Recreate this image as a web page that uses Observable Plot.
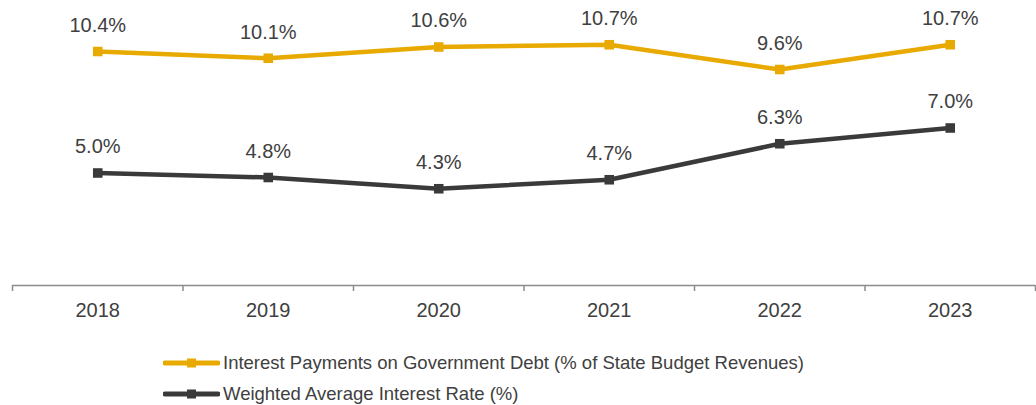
<!DOCTYPE html>
<html>
<head>
<meta charset="utf-8">
<script src="https://cdn.jsdelivr.net/npm/d3@7"></script>
<script src="https://cdn.jsdelivr.net/npm/@observablehq/plot@0.6"></script>
<style>
  body { margin: 0; background: #fff; font-family: "Liberation Sans", Arial, sans-serif; }
  #legend { position: relative; height: 65px; font-size: 18.5px; color: #404040; }
  .row { position: absolute; left: 163px; display: flex; align-items: center; }
  .row svg { display: block; margin-right: 3px; }
</style>
</head>
<body>
<div id="chart"></div>
<div id="legend"></div>
<script>
const years = [2018, 2019, 2020, 2021, 2022, 2023];
const interestPayments = [10.4, 10.1, 10.6, 10.7, 9.6, 10.7];
const weightedRate = [5.0, 4.8, 4.3, 4.7, 6.3, 7.0];
const boundaries = [2017.5, 2018.5, 2019.5, 2020.5, 2021.5, 2022.5, 2023.5];
const seriesNames = ["Interest Payments on Government Debt (% of State Budget Revenues)", "Weighted Average Interest Rate (%)"];
const seriesColors = ["#E8A900", "#3A3A3A"];

const data = [];
years.forEach((y, i) => {
  data.push({year: y, value: interestPayments[i], series: seriesNames[0]});
  data.push({year: y, value: weightedRate[i], series: seriesNames[1]});
});

const chart = Plot.plot({
  width: 1036,
  height: 340,
  marginLeft: 12,
  marginRight: 1,
  marginTop: 15,
  marginBottom: 55,
  style: {fontFamily: "'Liberation Sans', Arial, sans-serif", color: "#404040", background: "#fff"},
  x: {type: "linear", domain: [2017.5, 2023.5], label: null},
  y: {domain: [0, 12], axis: null},
  color: {domain: seriesNames, range: seriesColors},
  marks: [
    Plot.ruleY([0], {stroke: "#8C8C8C", strokeWidth: 1.5}),
    Plot.axisX({ticks: boundaries, tickSize: 6, tickFormat: () => "", label: null, stroke: "#8C8C8C", strokeWidth: 1.5, strokeOpacity: 1}),
    Plot.axisX({ticks: years, tickSize: 0, tickPadding: 17, tickFormat: d => String(d), label: null, fontSize: 20, fill: "#404040"}),
    Plot.line(data, {x: "year", y: "value", z: "series", stroke: "series", strokeWidth: 4.5}),
    Plot.dot(data, {x: "year", y: "value", fill: "series", symbol: "square", r: 5.4}),
    Plot.text(data, {x: "year", y: "value", text: d => d.value.toFixed(1) + "%", dy: -26, fontSize: 20, fill: "#404040"})
  ]
});
document.getElementById("chart").appendChild(chart);

const legend = document.getElementById("legend");
seriesNames.forEach((name, i) => {
  const row = document.createElement("div");
  row.className = "row";
  row.style.top = (i === 0 ? 12 : 43) + "px";
  row.innerHTML = `<svg width="57" height="20"><line x1="2" x2="55" y1="10" y2="10" stroke="${seriesColors[i]}" stroke-width="5" stroke-linecap="round"/><rect x="24" y="5.5" width="9" height="9" fill="${seriesColors[i]}"/></svg><span>${name}</span>`;
  legend.appendChild(row);
});
</script>
</body>
</html>
